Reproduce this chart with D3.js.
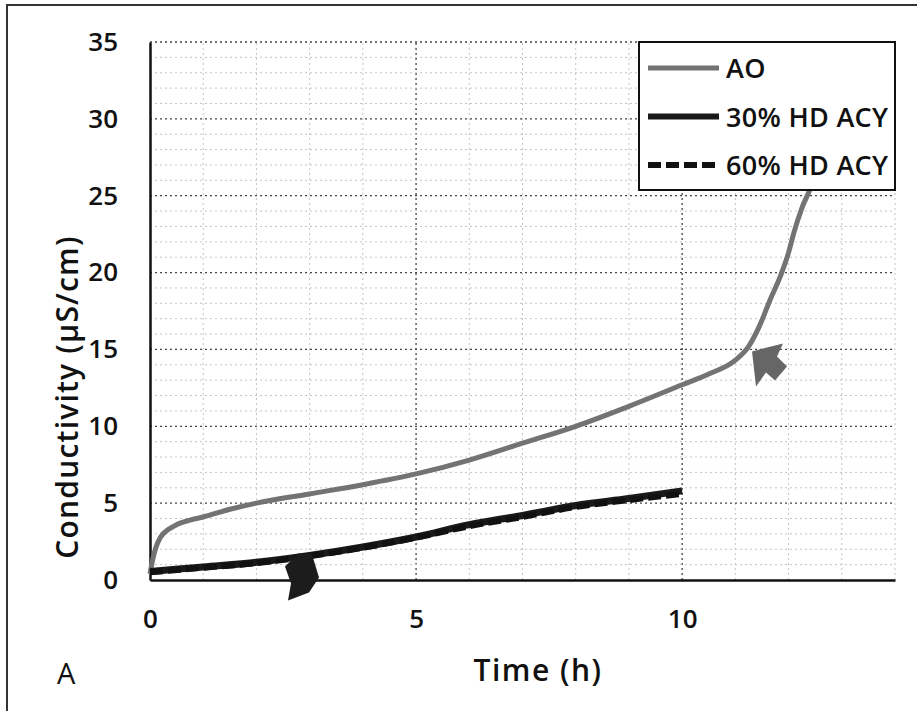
<!DOCTYPE html>
<html>
<head>
<meta charset="utf-8">
<script src="https://cdn.jsdelivr.net/npm/d3@7"></script>
<style>
	body { margin: 0; background: #fff; }
	svg text { font-family: "Open Sans", "Noto Sans", sans-serif; fill: #111; }
</style>
</head>
<body>
<svg id="chart" width="917" height="711"></svg>
<script>
/* Data (time in h, conductivity in uS/cm) */
var timeAO = [0, 0.05, 0.1, 0.2, 0.35, 0.5, 0.75, 1, 1.5, 2, 3, 4, 5, 6, 7, 8, 9, 10, 10.5, 11, 11.25, 11.45, 11.65, 11.85, 12, 12.1, 12.25, 12.4, 12.6, 12.8, 13]
var condAO = [0.4, 1.3, 2.0, 2.8, 3.3, 3.6, 3.9, 4.1, 4.6, 5.0, 5.6, 6.2, 6.9, 7.8, 8.9, 10.0, 11.3, 12.7, 13.4, 14.3, 15.2, 16.5, 18.2, 19.8, 21.3, 22.6, 24.2, 25.4, 27.5, 30.0, 33.0]

var timeACY = [0, 1, 2, 3, 4, 5, 6, 7, 8, 9, 10]
var cond30 = [0.55, 0.85, 1.15, 1.6, 2.15, 2.8, 3.6, 4.2, 4.85, 5.3, 5.8]
var cond60 = [0.5, 0.8, 1.1, 1.55, 2.1, 2.75, 3.5, 4.1, 4.75, 5.2, 5.6]

var seriesNames = ['AO', '30% HD ACY', '60% HD ACY']
var xTicks = [0, 5, 10]
var yTicks = [0, 5, 10, 15, 20, 25, 30, 35]

var svg = d3.select('#chart')
var margin = { left: 150, right: 22, top: 42, bottom: 131 }
var width = 917 - margin.left - margin.right
var height = 711 - margin.top - margin.bottom

var x = d3.scaleLinear().domain([0, 14]).range([margin.left, margin.left + width])
var y = d3.scaleLinear().domain([0, 35]).range([margin.top + height, margin.top])

/* outer frame of the figure */
svg.append('rect').attr('x', 7).attr('y', 5).attr('width', 930).attr('height', 730)
	.style('fill', 'none').style('stroke', '#333').style('stroke-width', 2)

/* grid: minor every unit, major every 5 */
var grid = svg.append('g')
grid.selectAll('line.gx').data(d3.range(1, 15)).enter().append('line')
	.attr('x1', function(d) { return x(d) }).attr('x2', function(d) { return x(d) })
	.attr('y1', y(0)).attr('y2', y(35))
	.style('stroke', function(d) { return d % 5 == 0 ? '#444' : '#c4c4c4' })
	.style('stroke-width', function(d) { return d % 5 == 0 ? 1.3 : 1 })
	.style('stroke-dasharray', '2,3')
grid.selectAll('line.gy').data(d3.range(1, 36)).enter().append('line')
	.attr('y1', function(d) { return y(d) }).attr('y2', function(d) { return y(d) })
	.attr('x1', x(0)).attr('x2', x(14))
	.style('stroke', function(d) { return d % 5 == 0 ? '#444' : '#c4c4c4' })
	.style('stroke-width', function(d) { return d % 5 == 0 ? 1.3 : 1 })
	.style('stroke-dasharray', '2,3')

/* axes */
var xAxis = svg.append('g').attr('transform', 'translate(0,' + y(0) + ')')
	.call(d3.axisBottom(x).tickValues(xTicks).tickSize(0).tickPadding(30).tickFormat(d3.format('d')))
var yAxis = svg.append('g').attr('transform', 'translate(' + x(0) + ',0)')
	.call(d3.axisLeft(y).tickValues(yTicks).tickSize(0).tickPadding(32).tickFormat(d3.format('d')))
xAxis.select('.domain').style('stroke', '#111').style('stroke-width', 2.5)
yAxis.select('.domain').style('stroke', '#111').style('stroke-width', 2.5)
svg.selectAll('.tick text').style('font-size', '26px').style('font-weight', 600).style('font-family', '"Open Sans", sans-serif').style('fill', '#111')

/* series */
var line = d3.line().curve(d3.curveMonotoneX)
	.x(function(d) { return x(d[0]) })
	.y(function(d) { return y(d[1]) })

svg.append('path').datum(d3.zip(timeAO, condAO)).attr('d', line)
	.style('fill', 'none').style('stroke', '#737373').style('stroke-width', 5)
svg.append('path').datum(d3.zip(timeACY, cond30)).attr('d', line)
	.style('fill', 'none').style('stroke', '#1a1a1a').style('stroke-width', 7)
svg.append('path').datum(d3.zip(timeACY, cond60)).attr('d', line)
	.style('fill', 'none').style('stroke', '#111').style('stroke-width', 6).style('stroke-dasharray', '13,5')

/* annotation arrows, anchored in data space */
var arrows = [
	{ t: 11.2, v: 15, fill: '#666', pts: [[6, 2], [37, -6], [31, 7], [41, 17], [29, 31], [20, 23], [10, 37]] },
	{ t: 2.8, v: 1.4, fill: '#1c1c1c', pts: [[-14, 8], [-1, -5], [13, -4], [20, 19], [10, 34], [-11, 42], [-8, 25]] }
]
svg.selectAll('polygon.arrow').data(arrows).enter().append('polygon')
	.attr('points', function(a) {
		return a.pts.map(function(p) { return (x(a.t) + p[0]) + ',' + (y(a.v) + p[1]) }).join(' ')
	})
	.style('fill', function(a) { return a.fill })

/* legend */
var legend = svg.append('g')
legend.append('rect').attr('x', 639).attr('y', 42).attr('width', 256).attr('height', 148)
	.style('fill', '#fff').style('stroke', '#111').style('stroke-width', 2)
var legendStyles = [
	{ stroke: '#737373', w: 5, dash: null },
	{ stroke: '#1a1a1a', w: 6, dash: null },
	{ stroke: '#111', w: 6, dash: '13,5' }
]
var items = legend.selectAll('g.item').data(seriesNames).enter().append('g')
	.attr('transform', function(d, i) { return 'translate(0,' + (68 + i * 48.5) + ')' })
items.append('line').attr('x1', 648).attr('x2', 719).attr('y1', 0).attr('y2', 0)
	.style('stroke', function(d, i) { return legendStyles[i].stroke })
	.style('stroke-width', function(d, i) { return legendStyles[i].w })
	.style('stroke-dasharray', function(d, i) { return legendStyles[i].dash })
items.append('text').attr('x', 726).attr('y', 10).text(function(d) { return d })
	.style('font-size', '27px').style('font-weight', 600).style('letter-spacing', '0.3px')

/* axis titles */
svg.append('text').attr('x', 538).attr('y', 681).attr('text-anchor', 'middle')
	.style('font-size', '30px').style('font-weight', 600).style('letter-spacing', '1.5px').text('Time (h)')
svg.append('text').attr('transform', 'translate(78,397) rotate(-90)').attr('text-anchor', 'middle')
	.style('font-size', '30px').style('font-weight', 600).style('letter-spacing', '1.2px').text('Conductivity (µS/cm)')
svg.append('text').attr('x', 57).attr('y', 684).style('font-size', '29px').text('A')
</script>
</body>
</html>
